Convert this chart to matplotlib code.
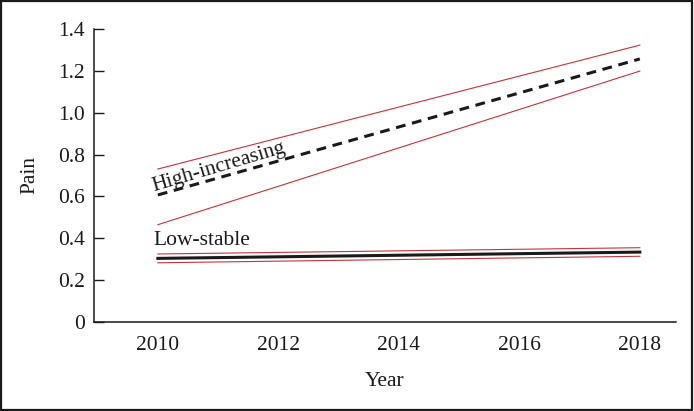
import matplotlib
matplotlib.use("Agg")
import matplotlib.pyplot as plt
from matplotlib.patches import Rectangle

plt.rcParams['font.family'] = ['Liberation Serif', 'DejaVu Serif']

years = [2010, 2018]
high_mean = [0.607, 1.257]
high_upper = [0.731, 1.323]
high_lower = [0.465, 1.199]
low_mean = [0.304, 0.334]
low_upper = [0.325, 0.355]
low_lower = [0.283, 0.314]

xticks = [2010, 2012, 2014, 2016, 2018]
yticks = [0, 0.2, 0.4, 0.6, 0.8, 1.0, 1.2, 1.4]
ytick_labels = ["0", "0.2", "0.4", "0.6", "0.8", "1.0", "1.2", "1.4"]

red = '#c8333a'
ink = '#1a1a1a'
fs = 15.5

fig = plt.figure(figsize=(6.94, 4.11), dpi=100)
ax = fig.add_axes([94/694, (411-322)/411, (676-94)/694, (322-29)/411])

ax.plot(years, high_upper, color=red, lw=0.8)
ax.plot(years, high_lower, color=red, lw=0.8)
ax.plot(years, high_mean, color=ink, lw=2.2, dashes=(3.2, 2.2))
ax.plot(years, low_upper, color=red, lw=0.8)
ax.plot(years, low_lower, color=red, lw=0.8)
ax.plot(years, low_mean, color=ink, lw=2.2)

ax.text(2009.93, 0.625, "High-increasing", rotation=16.5, rotation_mode='anchor',
        ha='left', va='baseline', fontsize=fs, color=ink)
ax.text(2009.93, 0.368, "Low-stable", ha='left', va='baseline', fontsize=fs,
        color=ink)

ax.set_xlim(2008.94, 2018.6)
ax.set_ylim(0, 1.4)
ax.set_xticks(xticks)
ax.set_xticklabels([str(x) for x in xticks])
ax.set_yticks(yticks)
ax.set_yticklabels(ytick_labels)
ax.tick_params(axis='y', direction='in', length=7.2, width=1, pad=6.5,
               labelsize=fs, colors=ink)
ax.tick_params(axis='x', length=0, pad=10, labelsize=fs, colors=ink)
for s in ['top', 'right']:
    ax.spines[s].set_visible(False)
for s in ['left', 'bottom']:
    ax.spines[s].set_linewidth(1.1)
    ax.spines[s].set_color(ink)

ax.set_xlabel("Year", fontsize=fs, color=ink, labelpad=12)
ax.set_ylabel("Pain", fontsize=fs, color=ink, labelpad=13)

fig.patches.append(Rectangle((0.002, 0.003), 0.995, 0.994, transform=fig.transFigure,
                             fill=False, edgecolor=ink, lw=1.6))

fig.savefig("out.png", dpi=100)
